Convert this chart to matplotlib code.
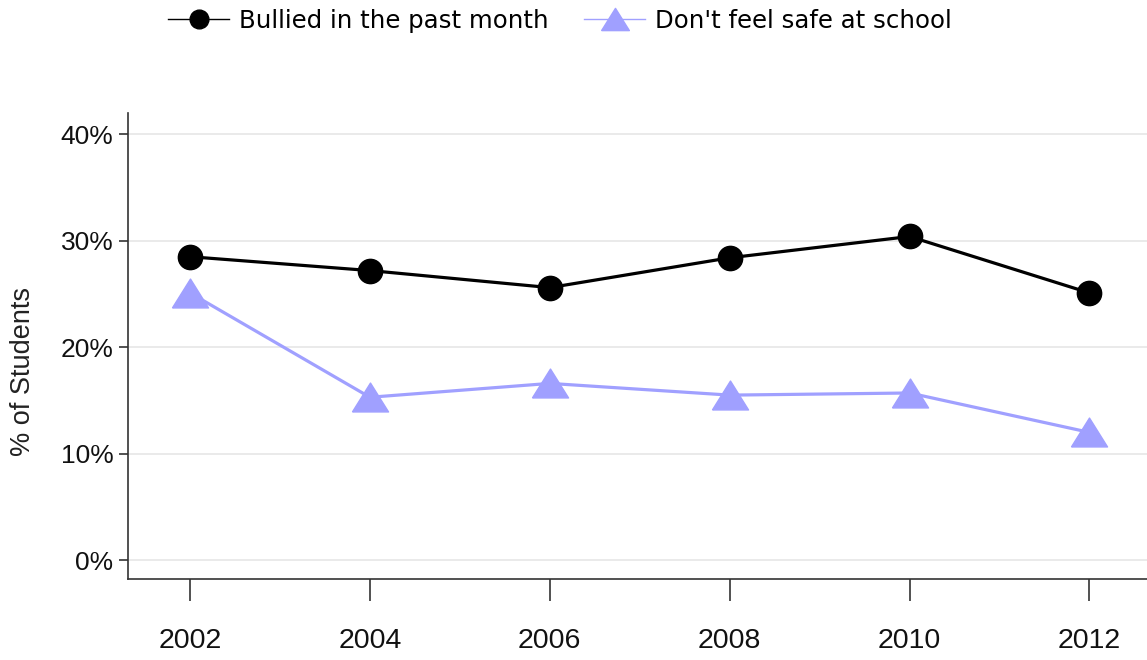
import matplotlib
matplotlib.use("Agg")
import matplotlib.pyplot as plt
from matplotlib.lines import Line2D
import numpy as np

years = [2002, 2004, 2006, 2008, 2010, 2012]
bullied = [28.5, 27.2, 25.6, 28.4, 30.4, 25.1]
unsafe = [25.1, 15.3, 16.6, 15.5, 15.7, 12.0]
series_labels = ["Bullied in the past month", "Don't feel safe at school"]
y_ticks = [0, 10, 20, 30, 40]
y_ticklabels = ["0%", "10%", "20%", "30%", "40%"]
y_label = "% of Students"

black = "#000000"
purple = "#a0a0ff"
tri = [(-1, -0.8), (1, -0.8), (0, 0.8), (-1, -0.8)]

fig = plt.figure(figsize=(11.47, 6.6), dpi=100)
ax = fig.add_axes([128/1147, 1-579.3/660, 1-128/1147, (579.3-113)/660])

ax.plot(years, bullied, color=black, lw=2.3, marker='o', markersize=17.5,
        markerfacecolor=black, markeredgecolor=black, zorder=3)
ax.plot(years, unsafe, color=purple, lw=2.3, marker=tri, markersize=26,
        markerfacecolor=purple, markeredgecolor=purple, zorder=3)

ax.set_xlim(2001.31, 2012.64)
ax.set_ylim(-1.8, 42.0)
ax.set_xticks(years)
ax.set_xticklabels([str(y) for y in years], fontsize=20.5, family='Liberation Sans', color='#111111')
ax.set_yticks(y_ticks)
ax.set_yticklabels(y_ticklabels, fontsize=19, family='Liberation Sans', color='#111111')
ax.grid(axis='y', color='#e6e6e6', lw=1.2, zorder=0)
ax.set_axisbelow(True)
for s in ['top', 'right']:
    ax.spines[s].set_visible(False)
for s in ['left', 'bottom']:
    ax.spines[s].set_color('#333333')
    ax.spines[s].set_linewidth(1.2)
ax.tick_params(axis='x', length=16, width=1.2, color='#333333', pad=19)
ax.tick_params(axis='y', length=6.5, width=1.2, color='#333333', pad=4)

ax.set_ylabel(y_label, fontsize=19.5, family='Liberation Sans', color='#222222', va='center')
ax.yaxis.set_label_coords((23-128)/1019, (579.3-371)/466.3)

handles = [
    Line2D([], [], color=black, lw=1.0, marker='o', markersize=13.5,
           markerfacecolor=black, markeredgecolor=black),
    Line2D([], [], color=purple, lw=1.0, marker=tri, markersize=20,
           markerfacecolor=purple, markeredgecolor=purple),
]
fig.legend(handles, series_labels, loc='center', bbox_to_anchor=(560/1147, 1-21/660),
           ncol=2, frameon=False, prop={'family': 'DejaVu Sans', 'size': 17.6},
           handlelength=2.5, handletextpad=0.4, columnspacing=1.45)

fig.savefig("out.png", dpi=100)
